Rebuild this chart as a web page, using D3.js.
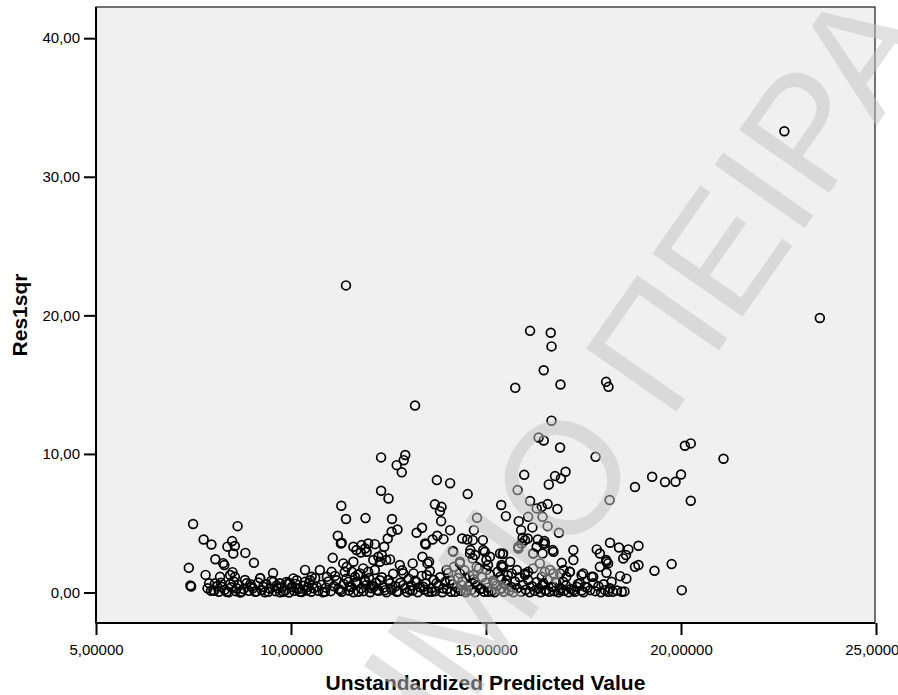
<!DOCTYPE html>
<html>
<head>
<meta charset="utf-8">
<script src="https://cdn.jsdelivr.net/npm/d3@7"></script>
<style>
  html, body { margin: 0; padding: 0; background: #ffffff; }
  svg { display: block; }
  text { font-family: "Liberation Sans", Arial, sans-serif; }
</style>
</head>
<body>
<svg id="chart" width="898" height="695"></svg>
<script>
// Unstandardized predicted value (x) for each case
const predictedValues = [
  // left arm of the cloud
  7.49, 8.63, 7.76, 7.96, 8.49, 8.37, 8.56, 8.52, 8.83, 8.06, 8.26, 8.29, 9.05, 7.38, 7.81, 8.50, 8.18, 9.54, 10.36, 7.42, 7.44, 9.21,
  7.90, 8.05, 8.03, 8.22, 8.35, 8.44, 8.56, 8.61, 8.73, 8.86, 8.99, 9.08, 9.29, 9.42, 9.55, 9.67, 9.80, 9.93, 10.06, 10.15, 10.23, 10.36, 10.44,
  8.01, 8.44, 9.21, 9.72, 9.97, 10.15, 10.53, 10.74, 10.92, 11.04, 11.07, 11.17, 11.28, 11.34, 11.43, 11.47, 11.56, 11.60, 11.60, 11.68, 11.68,
  11.77, 11.81, 11.85, 11.90, 11.90, 11.94, 11.98, 12.07, 12.11, 12.15, 12.20, 12.24,
  // middle of the cloud
  12.31, 12.93, 12.89, 12.71, 12.84, 13.74, 14.08, 14.53, 15.39, 15.51, 12.31, 12.50, 11.29, 11.41, 11.91, 12.59,
  13.69, 13.86, 13.82, 13.85, 14.77, 12.73, 12.58, 12.48, 12.39, 13.36, 13.22, 14.08, 13.75, 13.63, 13.46, 13.91,
  14.69, 14.39, 14.52, 14.66, 14.92, 11.20, 11.30, 11.98, 11.79, 12.33, 12.44, 12.54, 12.28, 13.12, 13.37, 13.50, 13.54,
  14.15, 14.60, 14.93, 15.43, 14.66, 14.33, 15.01, 15.05, 15.40,
  11.38, 11.64, 12.15, 12.79, 12.88, 13.14, 13.48, 13.99, 14.33, 14.67, 15.01, 15.36,
  10.49, 10.66, 10.87, 11.26, 11.51, 11.73, 11.90, 12.07, 12.28, 12.41, 12.54, 12.71, 12.88, 13.05, 13.22, 13.39, 13.61,
  13.73, 13.90, 14.08, 14.21, 14.38, 14.50, 14.72, 14.89, 15.06, 15.23, 15.40, 15.53,
  13.44, 14.16, 14.59, 14.72, 14.97, 15.10, 15.44, 15.83, 15.91, 16.21, 16.30, 16.47,
  14.33, 14.76, 15.40, 15.62, 16.00, 16.08, 16.38, 15.79,
  // right arm of the cloud
  16.51, 16.73, 17.24, 17.84, 17.92, 18.18, 18.41, 18.65, 18.59, 18.52, 18.91, 17.24, 16.94, 18.09, 18.13, 17.92,
  18.82, 18.91, 19.32, 19.76, 20.02, 18.09, 18.44, 18.22, 18.48, 18.05, 18.13, 17.49, 17.71, 17.15, 17.06,
  17.41, 17.54, 17.67, 17.75, 17.24, 17.33, 16.90, 16.98, 16.73, 16.55, 16.47, 16.51, 16.64, 16.90,
  17.81, 15.98, 16.77, 16.92, 17.04, 16.61, 15.81, 18.17, 18.82, 19.26, 19.59, 19.86, 20.00, 20.25,
  16.13, 16.43, 16.58, 16.83, 16.30, 15.84, 16.08, 16.45, 16.19, 15.90, 16.00, 15.94, 16.07, 16.58, 16.87,
  16.33, 16.50, 15.83, 16.21, 16.45, 16.71, 18.08, 17.75, 17.45,
  15.36, 15.44, 15.66, 16.00, 16.21, 16.43, 16.73, 16.99, 17.15,
  // isolated high values
  11.41, 13.18, 16.13, 16.66, 16.68, 16.48, 15.75, 16.91, 18.08, 18.14, 16.68, 16.35, 16.48, 16.90, 20.10, 20.25,
  22.65, 21.09, 23.56,
  // bottom band
  7.86, 7.95, 8.10, 8.15, 8.20, 8.30, 8.40, 8.47, 8.53, 8.58, 8.66, 8.70, 8.78, 8.82, 8.92, 8.96, 9.02, 9.12, 9.16, 9.25,
  9.33, 9.37, 9.46, 9.50, 9.60, 9.63, 9.72, 9.76, 9.85, 9.88, 9.95, 10.02, 10.08, 10.12, 10.20, 10.27, 10.32, 10.40, 10.47,
  10.52, 10.58, 10.62, 10.70, 10.78, 10.82, 10.90, 10.96, 11.02, 11.10, 11.13, 11.22, 11.30, 11.35, 11.42, 11.48, 11.55,
  11.60, 11.66, 11.72, 11.80, 11.86, 11.93, 12.00, 12.03, 12.12, 12.18, 12.25, 12.33, 12.37, 12.45, 12.50, 12.58, 12.62,
  12.68, 12.75, 12.80, 12.85, 12.92, 12.98, 13.02, 13.08, 13.12, 13.18, 13.25, 13.30, 13.35, 13.42, 13.45, 13.52, 13.56,
  13.60, 13.66, 13.70, 13.78, 13.82, 13.88, 13.95, 14.00, 14.03, 14.10, 14.14, 14.18, 14.25, 14.28, 14.35, 14.40, 14.45,
  14.48, 14.55, 14.58, 14.62, 14.68, 14.72, 14.78, 14.82, 14.86, 14.90, 14.95, 15.00, 15.04, 15.10, 15.14, 15.18, 15.22,
  15.27, 15.30, 15.35, 15.40, 15.45, 15.50, 15.56, 15.60, 15.65, 15.70, 15.74, 15.80, 15.86, 15.90, 15.95, 16.02, 16.08,
  16.12, 16.18, 16.25, 16.30, 16.35, 16.40, 16.45, 16.52, 16.58, 16.62, 16.68, 16.75, 16.80, 16.86, 16.92, 17.00, 17.05,
  17.12, 17.18, 17.28, 17.36, 17.45, 17.50, 17.60, 17.80, 17.88, 17.95, 18.02, 18.18, 18.25, 18.36, 18.55, 18.60
];

// Squared residual (Res1sqr) for each case, same order as predictedValues
const residualSquares = [
  // left arm of the cloud
  4.94, 4.79, 3.82, 3.46, 3.71, 3.31, 3.35, 2.82, 2.86, 2.40, 2.12, 1.98, 2.14, 1.78, 1.27, 1.47, 1.13, 1.40, 1.63, 0.51, 0.43, 1.04,
  0.66, 0.66, 0.12, 0.41, 0.05, 0.61, 1.13, 0.30, 0.05, 0.66, 0.41, 0.05, 0.41, 0.05, 0.77, 0.30, 0.05, 0.66, 1.02, 0.30, 0.05, 0.77, 0.41,
  0.17, 1.26, 1.02, 0.66, 0.66, 0.89, 1.13, 1.62, 1.13, 1.49, 2.50, 0.89, 3.54, 2.10, 1.85, 0.77, 1.49, 2.22, 3.30, 3.06, 0.66,
  1.38, 3.42, 1.74, 0.89, 3.18, 2.94, 1.49, 0.53, 2.34, 3.49, 0.17, 2.58,
  // middle of the cloud
  9.75, 9.92, 9.55, 9.19, 8.67, 8.11, 7.89, 7.10, 6.31, 5.51, 7.34, 6.79, 6.26, 5.30, 5.37, 5.30,
  6.36, 6.18, 5.87, 5.15, 5.39, 4.55, 4.38, 3.90, 3.30, 4.67, 4.31, 4.50, 4.09, 3.83, 3.47, 3.85,
  4.50, 3.90, 3.83, 3.78, 3.78, 4.09, 3.59, 3.54, 2.89, 2.70, 2.34, 2.39, 2.22, 2.10, 2.58, 2.10, 2.22,
  2.99, 3.06, 3.06, 2.77, 2.46, 2.10, 2.34, 1.98, 1.85,
  1.49, 1.13, 1.62, 1.98, 1.38, 1.38, 1.26, 1.62, 1.38, 1.26, 1.62, 1.13,
  0.89, 0.41, 0.05, 0.17, 0.41, 0.05, 0.77, 0.30, 0.89, 0.17, 0.66, 0.05, 0.53, 0.17, 0.77, 0.41, 0.05,
  0.66, 0.30, 0.89, 0.05, 0.53, 0.17, 0.77, 0.30, 0.05, 0.66, 0.30, 0.89,
  3.54, 2.94, 2.82, 2.70, 2.94, 2.58, 2.82, 3.30, 3.54, 2.82, 3.30, 3.54,
  2.22, 1.85, 1.98, 2.22, 1.38, 1.49, 2.10, 1.62,
  // right arm of the cloud
  3.54, 2.94, 3.06, 3.11, 2.82, 3.59, 3.25, 3.11, 2.70, 2.46, 3.37, 2.34, 2.14, 2.22, 2.10, 1.85,
  1.85, 1.98, 1.57, 2.05, 0.17, 1.42, 1.18, 0.77, 0.05, 0.17, 0.05, 1.38, 1.13, 1.49, 1.13,
  0.66, 0.41, 0.17, 0.66, 0.17, 0.41, 0.17, 0.77, 0.41, 0.17, 0.66, 1.49, 1.62, 1.38,
  9.79, 8.49, 8.40, 8.23, 8.71, 7.80, 7.39, 6.67, 7.61, 8.35, 7.97, 7.99, 8.52, 6.62,
  6.60, 6.18, 6.38, 6.02, 6.07, 5.15, 5.46, 5.46, 4.70, 4.50, 3.78, 3.95, 3.90, 4.79, 4.31,
  3.83, 3.71, 3.18, 2.82, 2.82, 3.06, 2.34, 1.13, 1.26,
  2.82, 1.85, 1.38, 1.26, 1.74, 1.13, 1.38, 1.62, 1.49,
  // isolated high values
  22.16, 13.50, 18.88, 18.74, 17.76, 16.04, 14.77, 15.01, 15.20, 14.84, 12.40, 11.19, 10.97, 10.46, 10.59, 10.76,
  33.28, 9.65, 19.81,
  // bottom band
  0.30, 0.12, 0.45, 0.05, 0.70, 0.20, 0.02, 0.38, 0.80, 0.10, 0.55, 0.00, 0.25, 0.90, 0.12, 0.60, 0.30, 0.08, 0.72, 0.18,
  0.02, 0.60, 0.28, 0.85, 0.10, 0.50, 0.02, 0.35, 0.15, 0.75, 0.00, 0.40, 0.12, 0.62, 0.25, 0.03, 0.48, 0.15, 0.70,
  0.05, 0.30, 1.05, 0.12, 0.55, 0.02, 0.35, 0.80, 0.10, 0.45, 1.20, 0.25, 0.05, 0.62, 1.00, 0.15, 0.40,
  0.02, 0.75, 1.30, 0.30, 0.10, 0.55, 1.05, 0.02, 0.40, 0.70, 0.12, 1.10, 0.35, 0.02, 0.90, 0.22, 1.35,
  0.45, 0.08, 0.70, 1.60, 0.30, 0.02, 1.00, 0.50, 0.15, 0.85, 0.02, 0.40, 1.20, 0.20, 0.65, 0.05, 1.55,
  0.30, 0.90, 0.10, 0.50, 1.10, 0.02, 0.75, 0.25, 1.40, 0.05, 0.60, 1.85, 0.35, 1.05, 0.12, 0.80, 1.60,
  0.02, 0.45, 1.20, 0.18, 0.95, 0.02, 0.55, 1.75, 0.25, 1.10, 0.05, 0.70, 0.35, 1.30, 0.10, 0.85, 0.02,
  0.50, 1.50, 0.20, 0.95, 0.05, 0.60, 1.25, 0.15, 0.40, 0.02, 0.80, 0.30, 1.10, 0.05, 0.55, 0.20, 0.90,
  0.02, 0.45, 0.12, 0.75, 0.30, 0.02, 0.55, 0.15, 0.95, 0.05, 0.40, 0.10, 0.70, 0.02, 0.30, 0.12, 0.50,
  0.02, 0.25, 0.05, 0.62, 0.15, 0.02, 0.35, 0.10, 0.45, 0.02, 0.60, 0.30, 0.05, 0.15, 0.08, 1.00
];

const xTickValues = [5, 10, 15, 20, 25];
const yTickValues = [0, 10, 20, 30, 40];
const xAxisTitle = "Unstandardized Predicted Value";
const yAxisTitle = "Res1sqr";
const watermarkHead = "ΠΑΝΕΠΙΣΤΗΜΙΟ";
const watermarkTail = "ΠΕΙΡΑΙΩΣ";

const points = predictedValues.map((v, i) => ({ x: v, y: residualSquares[i] }));

const svg = d3.select("#chart");
const plot = { left: 96, right: 875, top: 7, bottom: 623 };

const x = d3.scaleLinear().domain([5, 25]).range([plot.left, 876]);
const y = d3.scaleLinear().domain([-2.2, 42.25]).range([plot.bottom, plot.top]);

const commaFixed = digits => d => d3.format("." + digits + "f")(d).replace(".", ",");

// plot background
svg.append("rect")
  .attr("x", plot.left).attr("y", plot.top)
  .attr("width", plot.right - plot.left).attr("height", plot.bottom - plot.top)
  .attr("fill", "#f0f0f0")
  .attr("stroke", "#1a1a1a").attr("stroke-width", 1.2);

// axes
const xAxis = svg.append("g")
  .attr("transform", `translate(0,${plot.bottom})`)
  .call(d3.axisBottom(x).tickValues(xTickValues).tickSize(12).tickPadding(9).tickFormat(commaFixed(5)));
const yAxis = svg.append("g")
  .attr("transform", `translate(${plot.left},0)`)
  .call(d3.axisLeft(y).tickValues(yTickValues).tickSize(12).tickPadding(4).tickFormat(commaFixed(2)));

[xAxis, yAxis].forEach(g => {
  g.select(".domain").remove();
  g.selectAll(".tick line").attr("stroke", "#000").attr("stroke-width", 2);
  g.selectAll(".tick text")
    .attr("fill", "#000")
    .style("font-family", '"Liberation Sans", Arial, sans-serif')
    .style("font-size", "15px");
});

// axis lines on left and bottom
svg.append("line")
  .attr("x1", plot.left).attr("x2", plot.right)
  .attr("y1", plot.bottom).attr("y2", plot.bottom)
  .attr("stroke", "#000").attr("stroke-width", 2);
svg.append("line")
  .attr("x1", plot.left).attr("x2", plot.left)
  .attr("y1", plot.top).attr("y2", plot.bottom)
  .attr("stroke", "#000").attr("stroke-width", 2);

// scatter markers
svg.append("g")
  .selectAll("circle")
  .data(points)
  .join("circle")
  .attr("cx", d => x(d.x))
  .attr("cy", d => y(d.y))
  .attr("r", 4.4)
  .attr("fill", "none")
  .attr("stroke", "#000")
  .attr("stroke-width", 1.7);

// axis titles
svg.append("text")
  .attr("x", (plot.left + plot.right) / 2)
  .attr("y", 690)
  .attr("text-anchor", "middle")
  .style("font-size", "21px")
  .style("font-weight", "bold")
  .text(xAxisTitle);

svg.append("text")
  .attr("transform", `translate(27,${(plot.top + plot.bottom) / 2}) rotate(-90)`)
  .attr("text-anchor", "middle")
  .style("font-size", "21px")
  .style("font-weight", "bold")
  .text(yAxisTitle);

// diagonal stamp across the figure
const stamp = svg.append("g")
  .attr("transform", "translate(608,509) rotate(-55)")
  .attr("fill", "#c4c4c4")
  .attr("opacity", 0.5)
  .style("font-size", "160px");
stamp.append("text").attr("x", 62).attr("text-anchor", "end").text(watermarkHead);
stamp.append("text").attr("x", 106).attr("text-anchor", "start").text(watermarkTail);
</script>
</body>
</html>
